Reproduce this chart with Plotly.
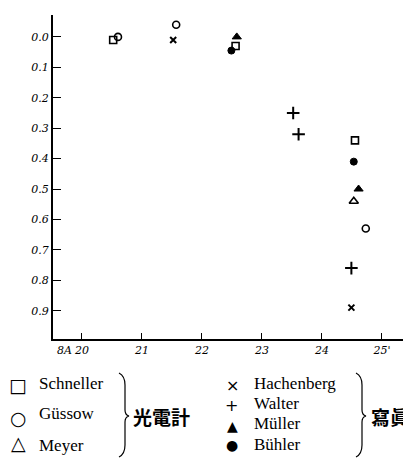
import plotly.graph_objects as go

# browser body margin offsets the plot by 8px; compensate
OFF = 8
W, H = 411 - OFF, 458 - OFF

# ---- data ----
schneller_x = [20.52, 22.56, 24.55]
schneller_y = [0.01, 0.03, 0.34]
gussow_x = [20.60, 21.57, 24.73]
gussow_y = [0.00, -0.04, 0.63]
meyer_x = [24.53]
meyer_y = [0.54]
hachenberg_x = [21.52, 24.49]
hachenberg_y = [0.01, 0.89]
walter_x = [23.52, 23.61, 24.49]
walter_y = [0.25, 0.32, 0.76]
muller_x = [22.58, 24.61]
muller_y = [0.00, 0.50]
buhler_x = [22.49, 24.53]
buhler_y = [0.045, 0.41]

x_ticks = [20, 21, 22, 23, 24, 25]
x_ticktext = ["20", "21", "22", "23", "24", "25'"]
y_ticks = [0.0, 0.1, 0.2, 0.3, 0.4, 0.5, 0.6, 0.7, 0.8, 0.9]
y_ticktext = ["0.0", "0.1", "0.2", "0.3", "0.4", "0.5", "0.6", "0.7", "0.8", "0.9"]


def px(x):
    return (x - OFF) / W


def py(y):
    return 1 - (y - OFF) / H


fig = go.Figure()

series = [
    (schneller_x, schneller_y, "square-open", 7, 1.6),
    (gussow_x, gussow_y, "circle-open", 7, 1.6),
    (meyer_x, meyer_y, "triangle-up-open", 8, 1.6),
    (hachenberg_x, hachenberg_y, "x-thin", 6, 2),
    (walter_x, walter_y, "cross-thin", 9, 2),
    (muller_x, muller_y, "triangle-up", 8, 1),
    (buhler_x, buhler_y, "circle", 7, 1),
]
for xs, ys, sym, size, lw in series:
    fig.add_trace(go.Scatter(
        x=xs, y=ys, mode="markers",
        marker=dict(symbol=sym, size=size, color="black",
                    line=dict(color="black", width=lw)),
        showlegend=False, hoverinfo="skip",
    ))

tick_font = dict(family="DejaVu Serif", size=11, color="black", style="italic")

fig.update_layout(
    width=W, height=H,
    margin=dict(l=0, r=0, t=0, b=0),
    paper_bgcolor="white", plot_bgcolor="white",
    showlegend=False,
    xaxis=dict(
        domain=[px(53), 1],
        showgrid=False, zeroline=False,
        showline=True, linecolor="black", linewidth=2,
        ticks="inside", ticklen=6, tickwidth=1.2, tickcolor="black",
        tickvals=x_ticks, ticktext=x_ticktext, tickfont=tick_font,
        automargin=False,
    ),
    yaxis=dict(
        domain=[py(339), py(15)], range=[0.993, -0.072],
        showgrid=False, zeroline=False,
        showline=True, linecolor="black", linewidth=2,
        ticks="inside", ticklen=8, tickwidth=1.2, tickcolor="black",
        tickvals=y_ticks, ticktext=y_ticktext, tickfont=tick_font,
        automargin=False,
    ),
)
fig.update_xaxes(range=[19.517, 19.517 + (W - (53 - OFF)) / 60.0])

ann = []
ann.append(dict(x=px(74), y=py(350), xref="paper", yref="paper", text="8A",
                showarrow=False, xanchor="right", yanchor="middle",
                font=dict(family="DejaVu Serif", size=11, color="black", style="italic")))

name_font = dict(family="Liberation Serif", size=17, color="black")
sym_font_l = dict(family="DejaVu Sans", size=19, color="black")
legend_left = [("□", 18, 385, "Schneller", 383, 19), ("○", 18, 418, "Güssow", 413, 19),
               ("△", 18, 443, "Meyer", 445, 19)]
legend_right = [("×", 232, 385, "Hachenberg", 383, 16), ("+", 231, 405, "Walter", 403, 16),
                ("▲", 232, 426, "Müller", 423, 14), ("●", 232, 445, "Bühler", 444, 14)]
for sym, sx, sy, name, ny, fs in legend_left:
    ann.append(dict(x=px(sx), y=py(sy), xref="paper", yref="paper", text=sym, showarrow=False,
                    xanchor="center", yanchor="middle",
                    font=dict(family="DejaVu Sans", size=fs, color="black")))
    ann.append(dict(x=px(37), y=py(ny), xref="paper", yref="paper", text=name, showarrow=False,
                    xanchor="left", yanchor="middle", font=name_font))
for sym, sx, sy, name, ny, fs in legend_right:
    ann.append(dict(x=px(sx), y=py(sy), xref="paper", yref="paper", text=sym, showarrow=False,
                    xanchor="center", yanchor="middle",
                    font=dict(family="DejaVu Sans", size=fs, color="black")))
    ann.append(dict(x=px(252), y=py(ny), xref="paper", yref="paper", text=name, showarrow=False,
                    xanchor="left", yanchor="middle", font=name_font))

cjk_font = dict(family="Noto Sans CJK JP", size=19, color="black", weight="bold")
ann.append(dict(x=px(131), y=py(416), xref="paper", yref="paper", text="光電計", showarrow=False,
                xanchor="left", yanchor="middle", font=cjk_font))
ann.append(dict(x=px(369), y=py(416), xref="paper", yref="paper", text="寫眞", showarrow=False,
                xanchor="left", yanchor="middle", font=cjk_font))
fig.update_layout(annotations=ann)


def brace(x0, y0, y1, ym, w):
    pts = (f"M {px(x0)},{py(y0)} Q {px(x0 + w * 0.6)},{py(y0 + 3)} {px(x0 + w * 0.6)},{py(y0 + 12)} "
           f"L {px(x0 + w * 0.6)},{py(ym - 6)} Q {px(x0 + w * 0.6)},{py(ym - 1)} {px(x0 + w)},{py(ym)} "
           f"Q {px(x0 + w * 0.6)},{py(ym + 1)} {px(x0 + w * 0.6)},{py(ym + 6)} "
           f"L {px(x0 + w * 0.6)},{py(y1 - 12)} Q {px(x0 + w * 0.6)},{py(y1 - 3)} {px(x0)},{py(y1)}")
    return dict(type="path", path=pts, xref="paper", yref="paper",
                line=dict(color="black", width=1.2))


fig.update_layout(shapes=[brace(119, 373, 457, 416, 10), brace(356, 373, 457, 416, 10)])

fig.write_html("out.html")
